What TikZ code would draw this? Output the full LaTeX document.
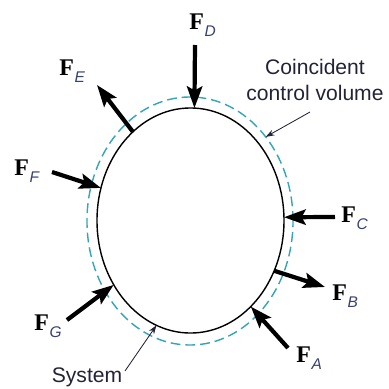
\documentclass[tikz,border=0pt]{standalone}
\usepackage{fontspec}
\usetikzlibrary{arrows.meta, shapes.geometric}
\setmainfont{Liberation Serif}
\newfontfamily\notefont{Liberation Sans}
\definecolor{cvteal}{RGB}{50,165,185}
\definecolor{inkgray}{RGB}{35,35,55}
\definecolor{subblue}{RGB}{55,65,115}
\newcommand{\force}[1]{{\bfseries F}\kern0.5pt\raisebox{-5pt}{\notefont\itshape\fontsize{11}{11}\selectfont\color{subblue}#1}}

\begin{document}
\begin{tikzpicture}[x=0.025cm, y=-0.025cm,
    boundary/.style={ellipse, draw, line width=1pt, inner sep=0pt, outer sep=0pt},
    force/.style={line width=3pt, -{Stealth[length=5.4mm, width=3.8mm, inset=1mm]}},
    pointer/.style={line width=0.6pt, color=inkgray, -{Stealth[length=2.2mm, width=1.5mm]}},
    flabel/.style={anchor=base west, inner sep=0pt, font=\fontsize{17}{17}\selectfont},
    note/.style={align=center, inner sep=0pt, text=inkgray, font=\notefont\fontsize{15}{18}\selectfont}
]
\useasboundingbox (0,0) rectangle (389,389);
% control volume and system
\node[boundary, draw=cvteal, dash pattern=on 7pt off 3.5pt, minimum width=5.15cm, minimum height=6.2cm] (cv) at (190,221) {};
\node[boundary, minimum width=4.675cm, minimum height=5.625cm] (sys) at (190.5,220.5) {};
% free ends of the forces
\coordinate (tD) at (195,45);
\coordinate (hE) at (97,85);
\coordinate (tF) at (52,172);
\coordinate (tC) at (335,217);
\coordinate (hB) at (325,287);
\coordinate (tA) at (288,348);
\coordinate (tG) at (67,320);
\draw[force] (tD) -- (sys.88);
\draw[force] (sys.123) -- (hE);
\draw[force] (tF) -- (sys.160);
\draw[force] (tC) -- (sys.2);
\draw[force] (sys.329) -- (hB);
\draw[force] (tA) -- (sys.305);
\draw[force] (tG) -- (sys.220);
% labels
\node[flabel] (lD) at (189,29) {\force{D}};
\node[flabel] (lE) at (59,75) {\force{E}};
\node[flabel] (lF) at (14,175) {\force{F}};
\node[flabel] (lC) at (341,222) {\force{C}};
\node[flabel] (lB) at (332,300) {\force{B}};
\node[flabel] (lA) at (296,362) {\force{A}};
\node[flabel] (lG) at (34,330) {\force{G}};
\node[note] (cvnote) at (315,80) {Coincident\\control volume};
\node[note] (sysnote) at (87,377) {System};
\coordinate (cvp) at (310,112);
\coordinate (sysp) at (125,371);
\draw[pointer] (cvp) -- (cv.48);
\draw[pointer] (sysp) -- (sys.252);
\end{tikzpicture}
\end{document}
